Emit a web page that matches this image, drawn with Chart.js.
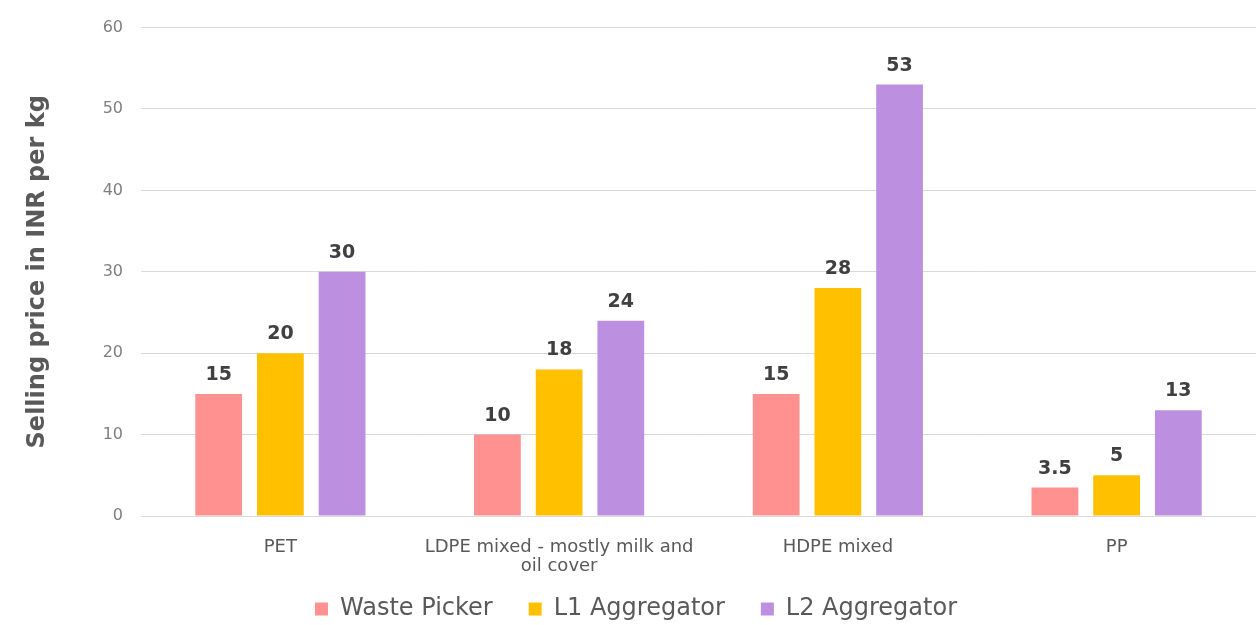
<!DOCTYPE html>
<html>
<head>
<meta charset="utf-8">
<script src="https://cdn.jsdelivr.net/npm/chart.js@4/dist/chart.umd.min.js"></script>
<style>
  html, body { margin: 0; padding: 0; background: #ffffff; overflow: hidden; }
  #wrap { width: 1256px; height: 625px; }
</style>
</head>
<body>
<div id="wrap"><canvas id="myChart" width="1256" height="625"></canvas></div>
<script>
var categories = ["PET", ["LDPE mixed - mostly milk and", "oil cover"], "HDPE mixed", "PP"];
var wastePicker = [15, 10, 15, 3.5];
var l1Aggregator = [20, 18, 28, 5];
var l2Aggregator = [30, 24, 53, 13];
var yTicks = [0, 10, 20, 30, 40, 50, 60];

var fontFam = "'DejaVu Sans', Verdana, sans-serif";

// draws the value above each bar
var valueLabels = {
    id: 'valueLabels',
    afterLayout: function(chart) {
        // let the two-line category label run into the legend area instead of being clipped
        chart.scales.x.bottom = chart.height;
    },
    afterDatasetsDraw: function(chart) {
        var ctx = chart.ctx;
        ctx.save();
        ctx.font = "bold 19px " + fontFam;
        ctx.fillStyle = "#404040";
        ctx.textAlign = "center";
        ctx.textBaseline = "alphabetic";
        chart.data.datasets.forEach(function(ds, i) {
            var meta = chart.getDatasetMeta(i);
            meta.data.forEach(function(bar, j) {
                ctx.fillText(ds.data[j], bar.x, bar.y - 14);
            });
        });
        ctx.restore();
    }
};

var ctx = document.getElementById("myChart");

var chart = new Chart(ctx, {
    type: 'bar',
    data: {
        labels: categories,
        datasets: [{
            label: "Waste Picker",
            backgroundColor: "#FF9191",
            data: wastePicker
        }, {
            label: "L1 Aggregator",
            backgroundColor: "#FFC000",
            data: l1Aggregator
        }, {
            label: "L2 Aggregator",
            backgroundColor: "#BD8FE0",
            data: l2Aggregator
        }]
    },
    plugins: [valueLabels],
    options: {
        responsive: false,
        animation: false,
        layout: { padding: { top: 24, right: -6, left: 10, bottom: -6 } },
        datasets: {
            bar: { categoryPercentage: 0.664, barPercentage: 0.758 }
        },
        plugins: {
            legend: {
                position: 'bottom',
                labels: {
                    boxWidth: 13,
                    boxHeight: 13,
                    padding: 36,
                    color: "#595959",
                    font: { size: 24, family: fontFam }
                }
            },
            tooltip: { enabled: false }
        },
        scales: {
            x: {
                grid: { display: false },
                border: { display: false },
                ticks: {
                    color: "#595959",
                    maxRotation: 0,
                    autoSkip: false,
                    padding: 13,
                    font: { size: 18, family: fontFam, lineHeight: 1.1 }
                },
                afterFit: function(scale) { scale.height = 45; }
            },
            y: {
                min: 0,
                max: 60,
                afterBuildTicks: function(scale) {
                    scale.ticks = yTicks.map(function(v) { return { value: v }; });
                },
                grid: { color: "#d9d9d9", drawTicks: false, lineWidth: 1 },
                border: { display: false },
                ticks: {
                    color: "#7f7f7f",
                    padding: 18,
                    font: { size: 16, family: fontFam }
                },
                title: {
                    display: true,
                    text: "Selling price in INR per kg",
                    color: "#595959",
                    font: { size: 24, weight: 'bold', family: fontFam },
                    padding: { top: 13, bottom: 0 }
                },
                afterFit: function(scale) { scale.width = 131; }
            }
        }
    }
});
</script>
</body>
</html>
